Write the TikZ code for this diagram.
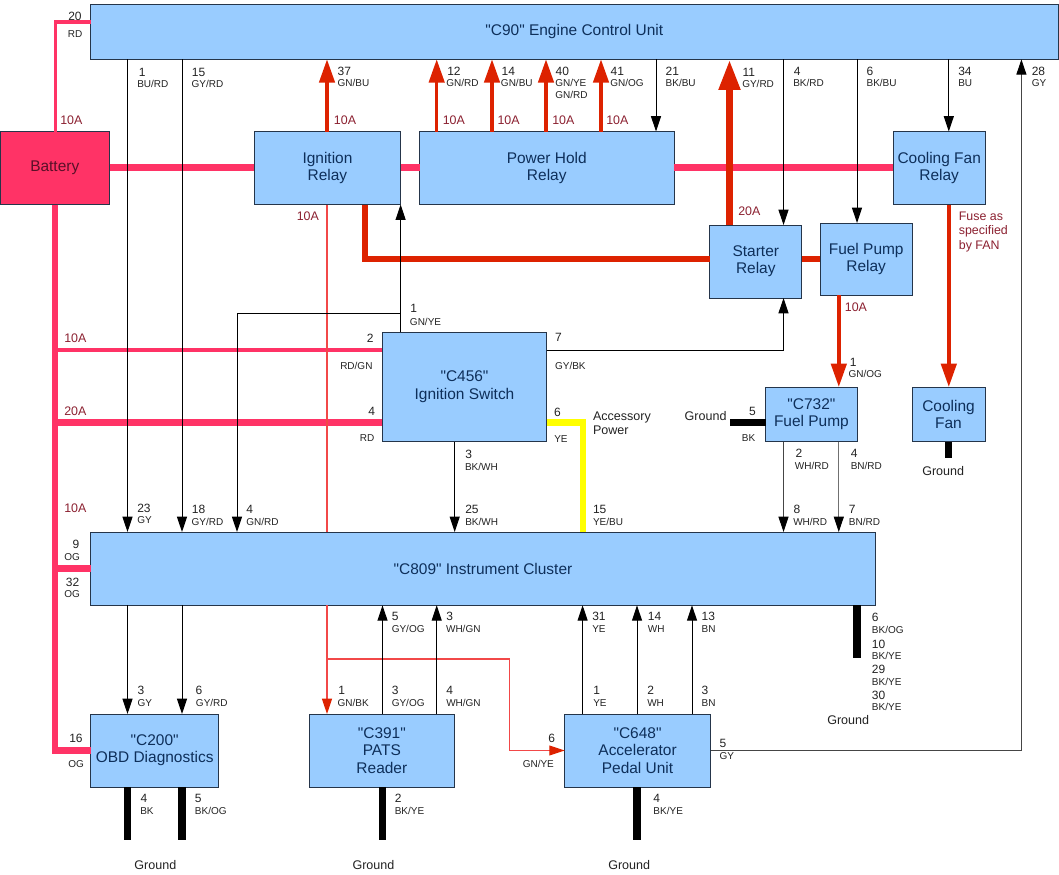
\documentclass[tikz,border=0pt]{standalone}
\usepackage{fontspec}
\setmainfont{Liberation Sans}[Ligatures=TeXOff]
\usetikzlibrary{arrows.meta,calc}
\definecolor{boxblue}{HTML}{99CCFF}
\definecolor{boxedge}{HTML}{25354A}
\definecolor{boxtext}{HTML}{0E2F5A}
\definecolor{batpink}{HTML}{FF3366}
\definecolor{batdark}{HTML}{5A1028}
\definecolor{wirered}{HTML}{DD2200}
\definecolor{thinred}{HTML}{F24848}
\definecolor{amptext}{HTML}{8B2030}
\definecolor{pintext}{HTML}{222222}
\definecolor{wiregray}{HTML}{707070}
\definecolor{darkgray}{HTML}{454545}
\definecolor{wireyellow}{HTML}{FFFF00}
\tikzset{
  x=0.75pt,y=-0.75pt,
  boxnode/.style={draw=boxedge,fill=boxblue,line width=0.75pt,inner sep=0pt,outer sep=0pt,align=center,
     text=boxtext,font=\fontsize{11.6}{13}\selectfont},
  batnode/.style={boxnode,fill=batpink,text=batdark},
  tnum/.style={anchor=base west,inner sep=0pt,text=pintext,font=\fontsize{9}{11}\selectfont},
  tcol/.style={anchor=base west,inner sep=0pt,text=pintext,font=\fontsize{7.5}{9}\selectfont},
  tamp/.style={anchor=base west,inner sep=0pt,text=amptext,font=\fontsize{9.3}{11}\selectfont},
  tgnd/.style={anchor=base west,inner sep=0pt,text=pintext,font=\fontsize{9.4}{11}\selectfont},
  pinkthin/.style={draw=batpink,line width=2.6pt},
  pinkmid/.style={draw=batpink,line width=4.6pt},
  pinkthick/.style={draw=batpink,line width=5.2pt},
  redwire/.style={draw=wirered,line width=2.6pt,-{Triangle[length=17.5pt,width=11.5pt]}},
  redbig/.style={draw=wirered,line width=5.6pt,-{Triangle[length=23pt,width=15pt]}},
  redpath/.style={draw=wirered,line width=4.6pt},
  thinwire/.style={draw=thinred,line width=0.8pt},
  thinarrow/.style={thinwire,-{Triangle[length=11.5pt,width=7.5pt,color=wirered]}},
  sig/.style={draw=black,line width=0.75pt,-{Triangle[length=11.5pt,width=7.5pt,color=black]}},
  gndbar/.style={draw=black,line width=5.4pt},
}
\newcounter{txtno}
\newcommand{\tx}[4]{\stepcounter{txtno}\node[#1] (t\thetxtno) at (#2,#3) {#4};}
\newcommand{\blk}[7][boxnode]{\node[#1,minimum width={(#5-#3)*0.75pt},minimum height={(#6-#4)*0.75pt}] (#2) at ({(#3+#5)/2},{(#4+#6)/2}) {#7};}
\begin{document}
\begin{tikzpicture}
\useasboundingbox (0,0) rectangle (1059,874);
% vertical and horizontal tracks
\coordinate (xbat) at (55.3,0);
\coordinate (xa) at (127.5,0);
\coordinate (xb) at (182,0);
\coordinate (xc) at (237,0);
\coordinate (xi) at (327,0);
\coordinate (xst) at (364.8,0);
\coordinate (xg) at (382.5,0);
\coordinate (xsw) at (400.6,0);
\coordinate (xh) at (436.7,0);
\coordinate (x14) at (492,0);
\coordinate (x40) at (546,0);
\coordinate (x41) at (601,0);
\coordinate (xk) at (509.5,0);
\coordinate (x21) at (656,0);
\coordinate (x3) at (454.7,0);
\coordinate (xye) at (582.6,0);
\coordinate (xp2) at (637,0);
\coordinate (xp3) at (692,0);
\coordinate (x11) at (729.5,0);
\coordinate (x4) at (783.5,0);
\coordinate (xf) at (838.8,0);
\coordinate (x6) at (857,0);
\coordinate (xcf) at (948.8,0);
\coordinate (x28) at (1021.4,0);
\coordinate (xg1) at (730,0);
\coordinate (y20) at (0,22);
\coordinate (yrail) at (0,167.7);
\coordinate (ystart) at (0,259.3);
\coordinate (ybr) at (0,313.7);
\coordinate (y2) at (0,350);
\coordinate (y4) at (0,422.5);
\coordinate (y9) at (0,568.5);
\coordinate (ysp) at (0,659);
\coordinate (yg1) at (0,840);
\coordinate (yg2) at (0,658);
\coordinate (yg3) at (0,458);
% blocks
\blk{ecu}{90.6}{4.7}{1058}{59.3}{"C90" Engine Control Unit}
\blk[batnode]{bat}{0}{131.5}{109.5}{204.5}{Battery}
\blk{ign}{254.2}{131.5}{400.7}{204.5}{Ignition\\Relay}
\blk{phr}{419.5}{131.5}{674}{204.5}{Power Hold\\Relay}
\blk{cfr}{893.4}{131.5}{985}{204.5}{Cooling Fan\\Relay}
\blk{str}{709.8}{225}{801.8}{298}{Starter\\Relay}
\blk{fpr}{820}{223}{912.4}{295}{Fuel Pump\\Relay}
\blk{sw}{382.4}{332}{546.6}{441.7}{"C456"\\Ignition Switch}
\blk{pump}{765.8}{387}{857}{441.7}{"C732"\\Fuel Pump}
\blk{fan}{912}{387}{985}{441.7}{Cooling\\Fan}
\blk{ic}{90.6}{532}{875.4}{605.3}{"C809" Instrument Cluster}
\blk{obd}{90.6}{714}{218.7}{787}{"C200"\\OBD Diagnostics}
\blk{pats}{309.3}{714}{454.4}{787}{"C391"\\PATS\\Reader}
\blk{pedal}{564.6}{714}{710.5}{787}{"C648"\\Accelerator\\Pedal Unit}
% power wires
\draw[pinkthin] (bat.north -| xbat) -- (xbat |- y20) -- (ecu.west |- y20);
\draw[pinkmid] (bat.south -| xbat) -- (xbat |- obd.west) -- (obd.west);
\draw[pinkthick] (bat.east |- yrail) -- (ign.west |- yrail);
\draw[pinkthick] (ign.east |- yrail) -- (phr.west |- yrail);
\draw[pinkthick] (phr.east |- yrail) -- (cfr.west |- yrail);
\draw[pinkthin] (xbat |- y2) -- (sw.west |- y2);
\draw[pinkmid] (xbat |- y4) -- (sw.west |- y4);
\draw[pinkmid] (xbat |- y9) -- (ic.west |- y9);
% switched wires
\draw[thinwire] (ign.south -| xi) -- (ic.north -| xi);
\draw[thinarrow] (ic.south -| xi) -- (pats.north -| xi);
\draw[thinarrow] (xi |- ysp) -- (xk |- ysp) -- (xk |- pedal.west) -- (pedal.west);
\draw[redwire] (ign.north -| xi) -- (ecu.south -| xi);
\draw[redwire] (phr.north -| xh) -- (ecu.south -| xh);
\draw[redwire] (phr.north -| x14) -- (ecu.south -| x14);
\draw[redwire] (phr.north -| x40) -- (ecu.south -| x40);
\draw[redwire] (phr.north -| x41) -- (ecu.south -| x41);
\draw[redbig] (str.north -| x11) -- (ecu.south -| x11);
\draw[redpath] (ign.south -| xst) -- (xst |- ystart) -- (str.west |- ystart);
\draw[redpath] (str.east |- ystart) -- (fpr.west |- ystart);
\draw[redwire] (fpr.south -| xf) -- (pump.north -| xf);
\draw[redwire] (cfr.south -| xcf) -- (fan.north -| xcf);
% yellow
\draw[draw=wireyellow,line width=4.6pt] (sw.east |- y4) -- (xye |- y4) -- (ic.north -| xye);
% signal wires
\draw[sig] (ecu.south -| xa) -- (ic.north -| xa);
\draw[sig] (ecu.south -| xb) -- (ic.north -| xb);
\draw[sig] (sw.north -| xsw) -- (ign.south -| xsw);
\draw[sig] (xsw |- ybr) -- (xc |- ybr) -- (ic.north -| xc);
\draw[sig] (ecu.south -| x21) -- (phr.north -| x21);
\draw[sig] (ecu.south -| x4) -- (str.north -| x4);
\draw[sig] (ecu.south -| x6) -- (fpr.north -| x6);
\draw[sig] (ecu.south -| xcf) -- (cfr.north -| xcf);
\draw[sig,draw=darkgray] (pedal.east) -- (x28 |- pedal.east) -- (ecu.south -| x28);
\draw[sig] (sw.east |- y2) -- (x4 |- y2) -- (str.south -| x4);
\draw[sig] (sw.south -| x3) -- (ic.north -| x3);
\draw[sig,draw=darkgray] (pump.south -| x4) -- (ic.north -| x4);
\draw[sig,draw=wiregray] (pump.south -| xf) -- (ic.north -| xf);
\draw[sig] (ic.south -| xa) -- (obd.north -| xa);
\draw[sig] (ic.south -| xb) -- (obd.north -| xb);
\draw[sig] (pats.north -| xg) -- (ic.south -| xg);
\draw[sig] (pats.north -| xh) -- (ic.south -| xh);
\draw[sig] (pedal.north -| xye) -- (ic.south -| xye);
\draw[sig] (pedal.north -| xp2) -- (ic.south -| xp2);
\draw[sig] (pedal.north -| xp3) -- (ic.south -| xp3);
% ground bars
\draw[gndbar] (xg1 |- y4) -- (pump.west |- y4);
\draw[gndbar] (fan.south -| xcf) -- (xcf |- yg3);
\draw[gndbar] (ic.south -| x6) -- (x6 |- yg2);
\draw[gndbar] (obd.south -| xa) -- (xa |- yg1);
\draw[gndbar] (obd.south -| xb) -- (xb |- yg1);
\draw[gndbar] (pats.south -| xg) -- (xg |- yg1);
\draw[gndbar] (pedal.south -| xp2) -- (xp2 |- yg1);
% ECU pins
\tx{tnum}{68}{20.7}{20}\tx{tcol}{67.6}{37.7}{RD}
\tx{tnum}{138.6}{76.7}{1}\tx{tcol}{137}{88}{BU/RD}
\tx{tnum}{191.7}{76.7}{15}\tx{tcol}{191.3}{88}{GY/RD}
\tx{tnum}{337.4}{75}{37}\tx{tcol}{337.4}{87}{GN/BU}
\tx{tnum}{447}{75}{12}\tx{tcol}{446}{87}{GN/RD}
\tx{tnum}{501.4}{75}{14}\tx{tcol}{500.7}{87}{GN/BU}
\tx{tnum}{555.4}{75}{40}\tx{tcol}{555}{87}{GN/YE}\tx{tcol}{555}{98.3}{GN/RD}
\tx{tnum}{610.4}{75}{41}\tx{tcol}{610}{87}{GN/OG}
\tx{tnum}{665.4}{75}{21}\tx{tcol}{665.4}{87}{BK/BU}
\tx{tnum}{742.4}{76.7}{11}\tx{tcol}{742}{88}{GY/RD}
\tx{tnum}{793.7}{75}{4}\tx{tcol}{793}{87}{BK/RD}
\tx{tnum}{866.3}{75}{6}\tx{tcol}{866.3}{87}{BK/BU}
\tx{tnum}{958}{75}{34}\tx{tcol}{958}{87}{BU}
\tx{tnum}{1031.5}{75}{28}\tx{tcol}{1031.5}{87}{GY}
% fuses
\tx{tamp}{60}{124.5}{10A}
\tx{tamp}{333.7}{124.5}{10A}
\tx{tamp}{442.5}{124.5}{10A}
\tx{tamp}{497.3}{124.5}{10A}
\tx{tamp}{552}{124.5}{10A}
\tx{tamp}{606}{124.5}{10A}
\tx{tamp}{296.5}{220}{10A}
\tx{tamp}{738}{215}{20A}
\tx{tamp}{958.6}{220}{Fuse as}
\tx{tamp}{958.6}{234.3}{specified}
\tx{tamp}{958.6}{249}{by FAN}
\tx{tamp}{64}{342.3}{10A}
\tx{tamp}{64}{415.3}{20A}
\tx{tamp}{64}{512}{10A}
\tx{tamp}{844.6}{311}{10A}
% switch pins
\tx{tnum}{410}{312.7}{1}\tx{tcol}{409.7}{325}{GN/YE}
\tx{tnum}{366.5}{342.3}{2}\tx{tcol}{340}{369}{RD/GN}
\tx{tnum}{368}{415.3}{4}\tx{tcol}{359.7}{441.7}{RD}
\tx{tnum}{465}{458.7}{3}\tx{tcol}{464.8}{470}{BK/WH}
\tx{tnum}{554.8}{341.7}{7}\tx{tcol}{554.8}{369}{GY/BK}
\tx{tnum}{553.8}{416}{6}\tx{tcol}{554}{442.3}{YE}
\tx{tgnd}{592.8}{420}{Accessory}\tx{tgnd}{592.8}{434.3}{Power}
% instrument cluster top
\tx{tnum}{137}{512.3}{23}\tx{tcol}{137}{523.3}{GY}
\tx{tnum}{191.7}{513.3}{18}\tx{tcol}{191.3}{525}{GY/RD}
\tx{tnum}{246}{513.3}{4}\tx{tcol}{246}{525}{GN/RD}
\tx{tnum}{465}{513.3}{25}\tx{tcol}{465}{525}{BK/WH}
\tx{tnum}{592.8}{513.3}{15}\tx{tcol}{592.8}{525}{YE/BU}
\tx{tnum}{793.3}{513.3}{8}\tx{tcol}{793}{525}{WH/RD}
\tx{tnum}{848.6}{513.3}{7}\tx{tcol}{848.6}{525}{BN/RD}
\tx{tnum}{72.3}{548.3}{9}\tx{tcol}{64}{560.3}{OG}
\tx{tnum}{65.6}{586}{32}\tx{tcol}{64}{597.3}{OG}
% fuel pump, fan
\tx{tnum}{849.6}{366}{1}\tx{tcol}{848.3}{377.3}{GN/OG}
\tx{tgnd}{684.4}{420}{Ground}
\tx{tnum}{748.9}{415.7}{5}\tx{tcol}{741.7}{441.7}{BK}
\tx{tnum}{795.4}{457.3}{2}\tx{tcol}{794.7}{469}{WH/RD}
\tx{tnum}{850.7}{457.3}{4}\tx{tcol}{850.5}{469}{BN/RD}
\tx{tgnd}{922}{475}{Ground}
% cluster bottom
\tx{tnum}{391.5}{620.7}{5}\tx{tcol}{391.5}{632.7}{GY/OG}
\tx{tnum}{446}{620.7}{3}\tx{tcol}{445.8}{632.7}{WH/GN}
\tx{tnum}{592}{620.7}{31}\tx{tcol}{592}{632.7}{YE}
\tx{tnum}{647.7}{620.7}{14}\tx{tcol}{647.7}{632.7}{WH}
\tx{tnum}{701.4}{620.7}{13}\tx{tcol}{701.4}{632.7}{BN}
\tx{tnum}{871.7}{621.7}{6}\tx{tcol}{871.7}{633.7}{BK/OG}
\tx{tnum}{871.7}{648.7}{10}\tx{tcol}{871.7}{659.7}{BK/YE}
\tx{tnum}{871.7}{673.3}{29}\tx{tcol}{871.7}{685.7}{BK/YE}
\tx{tnum}{871.7}{699.3}{30}\tx{tcol}{871.7}{710.7}{BK/YE}
\tx{tgnd}{827}{724}{Ground}
% lower modules
\tx{tnum}{137.3}{694.3}{3}\tx{tcol}{137.3}{706.7}{GY}
\tx{tnum}{195.4}{694.3}{6}\tx{tcol}{195.7}{706.7}{GY/RD}
\tx{tnum}{338}{694.3}{1}\tx{tcol}{337.4}{706.7}{GN/BK}
\tx{tnum}{391.5}{694.3}{3}\tx{tcol}{391.5}{706.7}{GY/OG}
\tx{tnum}{446}{694.3}{4}\tx{tcol}{446}{706.7}{WH/GN}
\tx{tnum}{593}{694.3}{1}\tx{tcol}{593}{706.7}{YE}
\tx{tnum}{647}{694.3}{2}\tx{tcol}{647}{706.7}{WH}
\tx{tnum}{701.4}{694.3}{3}\tx{tcol}{701.4}{706.7}{BN}
\tx{tnum}{69}{742}{16}\tx{tcol}{68}{767.7}{OG}
\tx{tnum}{548}{742.3}{6}\tx{tcol}{522.5}{767.7}{GN/YE}
\tx{tnum}{719.3}{747.3}{5}\tx{tcol}{719.3}{759}{GY}
\tx{tnum}{140.3}{802.3}{4}\tx{tcol}{140}{814.3}{BK}
\tx{tnum}{194.7}{802.3}{5}\tx{tcol}{194.7}{814.3}{BK/OG}
\tx{tnum}{394.5}{802.3}{2}\tx{tcol}{394.5}{814.3}{BK/YE}
\tx{tnum}{653.2}{802.3}{4}\tx{tcol}{653.2}{814.3}{BK/YE}
\tx{tgnd}{134.2}{869.3}{Ground}
\tx{tgnd}{352.3}{869.3}{Ground}
\tx{tgnd}{608}{869.3}{Ground}
\end{tikzpicture}
\end{document}
